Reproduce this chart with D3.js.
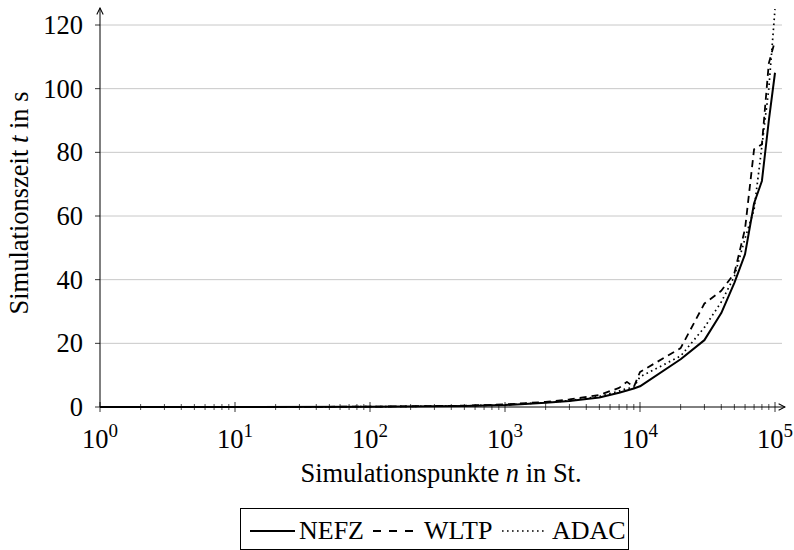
<!DOCTYPE html>
<html><head><meta charset="utf-8">
<script src="https://cdn.jsdelivr.net/npm/d3@7/dist/d3.min.js"></script>
<style>body{margin:0;background:#fff}svg{display:block}</style>
</head><body><svg id="c" width="794" height="550"></svg>
<script>
const points = [1, 10, 100, 500, 1000, 2000, 3000, 5000, 7000, 8000, 9000, 10000, 20000, 30000, 40000, 50000, 60000, 70000, 80000, 90000, 100000];
const nefz = [0, 0, 0.1, 0.3, 0.6, 1.3, 1.9, 3.0, 4.5, 5.2, 5.8, 6.5, 15, 21, 29.5, 39, 48, 64, 71, 90, 105];
const wltp = [0, 0, 0.1, 0.4, 0.8, 1.6, 2.4, 3.8, 6.0, 7.9, 6.3, 11, 18.5, 32.5, 36.5, 42, 56, 81, 82.5, 108, 115];
const adac = [0, 0, 0.1, 0.35, 0.7, 1.4, 2.0, 3.3, 5.0, 5.8, 6.2, 9.5, 16, 25, 33, 41, 53, 62, 82, 100, 125];
const yTicks = [0, 20, 40, 60, 80, 100, 120];
const xTicks = [1, 10, 100, 1000, 10000, 100000];
const seriesNames = ["NEFZ", "WLTP", "ADAC"];
const xLabel = "Simulationspunkte";
const yLabel = "Simulationszeit";

const FONT = "\"Liberation Serif\", \"Times New Roman\", \"DejaVu Serif\", serif";

const svg = d3.select("#c");
const x = d3.scaleLog().domain([1, 1e5]).range([100, 775]);
const y = d3.scaleLinear().domain([0, 120]).range([407, 25]);

const styles = [
  {w: 2, dash: null},
  {w: 1.8, dash: "7,5"},
  {w: 1.7, dash: "1.6,3.4"}
];

// grid
svg.append("g").selectAll("line").data(yTicks.filter(d => d > 0)).join("line")
  .attr("x1", 100).attr("x2", 782).attr("y1", d => y(d)).attr("y2", d => y(d))
  .attr("stroke", "#c8c8c8").attr("stroke-width", 1);

// y ticks
svg.append("g").selectAll("line").data(yTicks).join("line")
  .attr("x1", 95).attr("x2", 100).attr("y1", d => y(d)).attr("y2", d => y(d))
  .attr("stroke", "#000").attr("stroke-width", 0.8);
svg.append("g").selectAll("text").data(yTicks).join("text")
  .attr("x", 83).attr("y", d => y(d) + 9).attr("text-anchor", "end")
  .style("font-family", FONT).attr("font-size", 26.5).text(d => d);

// x minor ticks
const minor = [];
for (let e = 0; e < 5; e++) for (let k = 2; k <= 9; k++) minor.push(k * Math.pow(10, e));
svg.append("g").selectAll("line").data(minor).join("line")
  .attr("x1", d => x(d)).attr("x2", d => x(d)).attr("y1", 404).attr("y2", 410)
  .attr("stroke", "#000").attr("stroke-width", 0.7);
svg.append("g").selectAll("line").data(xTicks).join("line")
  .attr("x1", d => x(d)).attr("x2", d => x(d)).attr("y1", 402).attr("y2", 412)
  .attr("stroke", "#000").attr("stroke-width", 0.8);

const xl = svg.append("g").selectAll("text").data(xTicks).join("text")
  .attr("x", d => x(d)).attr("y", 448).attr("text-anchor", "middle")
  .style("font-family", FONT).attr("font-size", 26.5);
xl.append("tspan").text("10");
xl.append("tspan").attr("dy", -11).attr("font-size", 19).text(d => Math.round(Math.log10(d)));

// axes with arrows
const defs = svg.append("defs");
defs.append("marker").attr("id", "arr").attr("viewBox", "0 0 10 10").attr("refX", 9).attr("refY", 5)
  .attr("markerWidth", 8).attr("markerHeight", 8).attr("orient", "auto")
  .append("path").attr("d", "M1,1 L9,5 L1,9").attr("fill", "none").attr("stroke", "#000").attr("stroke-width", 1.3);
svg.append("line").attr("x1", 100).attr("x2", 100).attr("y1", 407).attr("y2", 8)
  .attr("stroke", "#000").attr("stroke-width", 1).attr("marker-end", "url(#arr)");
svg.append("line").attr("x1", 100).attr("x2", 785).attr("y1", 407).attr("y2", 407)
  .attr("stroke", "#000").attr("stroke-width", 1).attr("marker-end", "url(#arr)");

// lines
const line = d3.line().x(d => x(d[0])).y(d => y(d[1]));
[nefz, wltp, adac].forEach((vals, i) => {
  svg.append("path").datum(points.map((p, j) => [p, vals[j]]))
    .attr("d", line).attr("fill", "none").attr("stroke", "#000")
    .attr("stroke-width", styles[i].w).attr("stroke-dasharray", styles[i].dash)
    .attr("stroke-linejoin", "round");
});

// axis labels
const xt = svg.append("text").attr("x", 441).attr("y", 482).attr("text-anchor", "middle")
  .style("font-family", FONT).attr("font-size", 26.5);
xt.append("tspan").text(xLabel + " ");
xt.append("tspan").attr("font-style", "italic").text("n");
xt.append("tspan").text(" in St.");

const yt = svg.append("text").attr("transform", "translate(28,203) rotate(-90)").attr("text-anchor", "middle")
  .style("font-family", FONT).attr("font-size", 26.5);
yt.append("tspan").text(yLabel + " ");
yt.append("tspan").attr("font-style", "italic").text("t");
yt.append("tspan").text(" in s");

// legend
const lg = svg.append("g");
lg.append("rect").attr("x", 240.5).attr("y", 508.5).attr("width", 388).attr("height", 41)
  .attr("fill", "#fff").attr("stroke", "#000").attr("stroke-width", 1);
const legX = [[250, 295, 299], [373, 413, 424], [502, 547, 552]];
seriesNames.forEach((name, i) => {
  lg.append("line").attr("x1", legX[i][0]).attr("x2", legX[i][1]).attr("y1", 531).attr("y2", 531)
    .attr("stroke", "#000").attr("stroke-width", styles[i].w)
    .attr("stroke-dasharray", i === 1 ? "8,8" : styles[i].dash);
  lg.append("text").attr("x", legX[i][2]).attr("y", 539).style("font-family", FONT)
    .attr("font-size", 26).text(name);
});
</script></body></html>
